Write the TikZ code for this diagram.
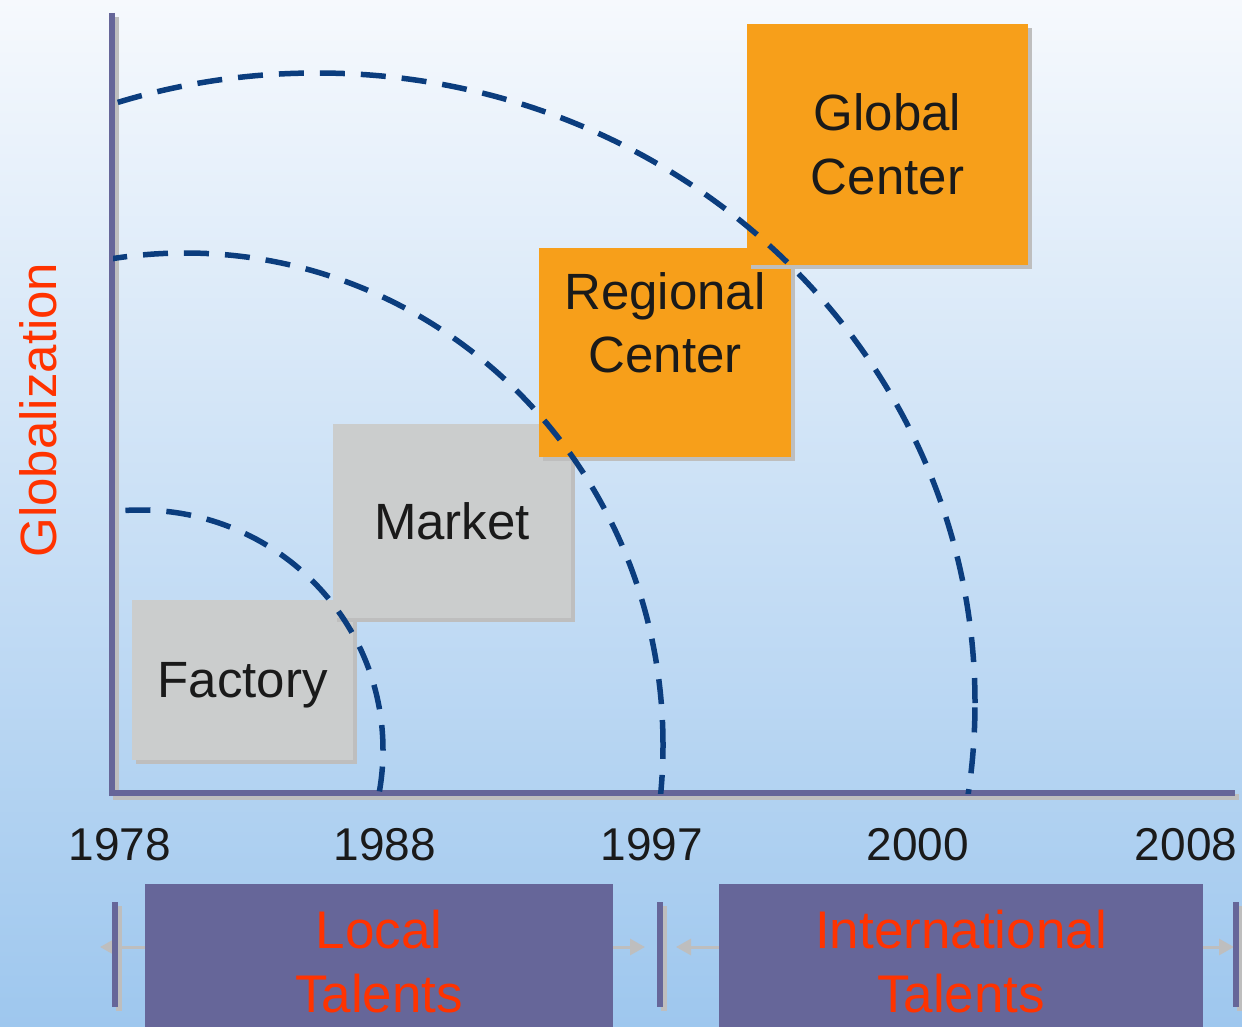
\documentclass[tikz,border=0pt]{standalone}
\usepackage{fontspec}
\setmainfont{Liberation Sans}
\usetikzlibrary{arrows.meta}
\usetikzlibrary{shadows}

\definecolor{bgtop}{HTML}{F6F9FD}
\definecolor{bgbottom}{HTML}{9EC7EE}
\definecolor{axisblue}{HTML}{666699}
\definecolor{shadowgray}{HTML}{BEBEBE}
\definecolor{boxgray}{HTML}{CBCDCD}
\definecolor{boxorange}{HTML}{F79F1A}
\definecolor{arcblue}{HTML}{0B3D7E}
\definecolor{talentred}{HTML}{FF3300}
\definecolor{textblack}{HTML}{1A1A1A}

\tikzset{
  solidshadow/.style={drop shadow={shadow xshift=4pt, shadow yshift=-4pt, fill=shadowgray, opacity=1}},
  stage/.style={rectangle, inner sep=0pt, solidshadow, text=textblack, align=center, font=\fontsize{51}{64}\selectfont},
  stagetext/.style={inner sep=0pt, text=textblack, align=center, font=\fontsize{51}{63}\selectfont},
  talentbox/.style={rectangle, inner sep=0pt, fill=axisblue, text=talentred, align=center, font=\fontsize{53}{64}\selectfont},
  yearlabel/.style={inner sep=0pt, text=textblack, font=\fontsize{46}{55}\selectfont},
  axislabel/.style={inner sep=0pt, text=talentred, font=\fontsize{51}{60}\selectfont},
  axisline/.style={draw=axisblue, line width=6pt},
  axisshadow/.style={draw=shadowgray, line width=6pt},
  periodbar/.style={rectangle, inner sep=0pt, fill=axisblue, minimum width=6pt, minimum height=105pt, solidshadow},
  talentarrow/.style={draw=shadowgray, line width=3pt, -{Triangle[length=15pt,width=16pt]}},
  horizon/.style={draw=arcblue, line width=5.5pt, dash pattern=on 25pt off 16pt}
}

\begin{document}
\begin{tikzpicture}[x=1pt, y=-1pt]

     % background
     \useasboundingbox (0,0) rectangle (1242,1027);
     \shade[top color=bgtop, bottom color=bgbottom] (0,0) rectangle (1242,1027);

     % axes
     \coordinate (ytop) at (112,13);
     \coordinate (origin) at (112,792.5);
     \coordinate (xend) at (1235,792.5);
     \draw[axisshadow, transform canvas={shift={(4pt,-4pt)}}] (ytop) -- (origin) -- (xend);
     \draw[axisline] (ytop) -- (origin) -- (xend);
     \node[axislabel, rotate=90] (glob) at (38,410) {Globalization};%

     % stages
     \node[stage, fill=boxgray, text depth=0pt, minimum width=221pt, minimum height=160pt] (factory) at (242.5,680) {Factory};%
     \node[stage, fill=boxgray, minimum width=238pt, minimum height=194pt] (market) at (452,521) {Market};%
     \node[stage, fill=boxorange, minimum width=252pt, minimum height=209pt] (regional) at (665,352.5) {};%
     \node[stagetext] (regionaltext) at ([yshift=30pt]regional.center) {Regional\\Center};%
     \node[stage, fill=boxorange, minimum width=281pt, minimum height=241pt] (global) at (887.5,144.5) {Global\\Center};%

     % horizons
     \begin{scope}
       \clip (113,0) rectangle (1242,793);
       \draw[horizon] (140,750) ellipse [x radius=243pt, y radius=240pt];
       \draw[horizon] (185,745) ellipse [x radius=478pt, y radius=492pt];
       \draw[horizon] (317,703) ellipse [x radius=658pt, y radius=630pt];
     \end{scope}

     % years
     \foreach \yr/\xpos in {1978/120, 1988/385, 1997/652, 2000/918, 2008/1186}
       \node[yearlabel] (year\yr) at (\xpos,845) {\yr};

     % talents
     \node[talentbox, minimum width=468pt, minimum height=156pt] (local) at (379,962) {Local\\Talents};%
     \node[talentbox, minimum width=484pt, minimum height=156pt] (intl) at (961,962) {International\\Talents};%

     \coordinate (tip1) at (100,947);
     \coordinate (tip2) at (645,947);
     \coordinate (tip3) at (676,947);
     \coordinate (tip4) at (1234,947);
     \draw[talentarrow] (local.west |- tip1) -- (tip1);
     \draw[talentarrow] (local.east |- tip2) -- (tip2);
     \draw[talentarrow] (intl.west |- tip3) -- (tip3);
     \draw[talentarrow] (intl.east |- tip4) -- (tip4);

     \node[periodbar] (bar1) at (115,954.5) {};%
     \node[periodbar] (bar2) at (660,954.5) {};%
     \node[periodbar] (bar3) at (1235.5,954.5) {};%

\end{tikzpicture}
\end{document}
